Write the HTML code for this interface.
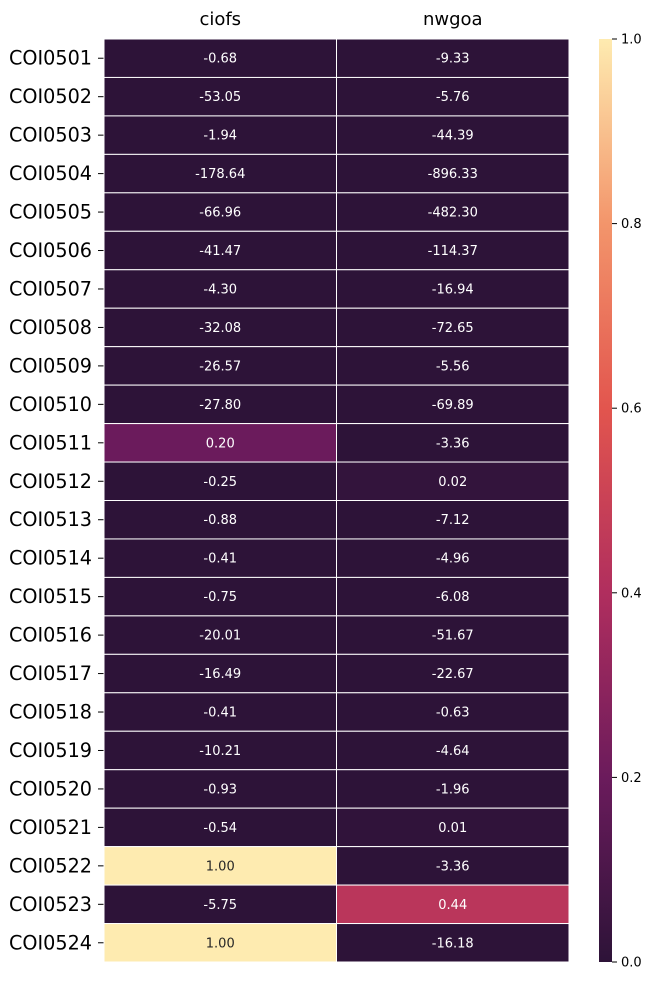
<!DOCTYPE html>
<html><head><meta charset="utf-8"><style>
body{margin:0;background:#fff;}
svg text{font-family:"DejaVu Sans","Liberation Sans",sans-serif;}
</style></head><body>
<svg id="chart" width="652" height="981" xmlns="http://www.w3.org/2000/svg">
<defs><linearGradient id="cbg" x1="0" y1="1" x2="0" y2="0">
<stop offset="0" stop-color="#2d1338"/><stop offset="0.2" stop-color="#6b1b5c"/>
<stop offset="0.4" stop-color="#b02e5e"/><stop offset="0.6" stop-color="#e2554e"/>
<stop offset="0.8" stop-color="#f3956b"/><stop offset="1" stop-color="#feebb0"/></linearGradient></defs>
<g id="cells"></g>
<rect x="599" y="39" width="13" height="923" fill="url(#cbg)"/>
<g id="cbticks"></g>
</svg>
<script>
const rows=["COI0501","COI0502","COI0503","COI0504","COI0505","COI0506","COI0507","COI0508","COI0509","COI0510","COI0511","COI0512","COI0513","COI0514","COI0515","COI0516","COI0517","COI0518","COI0519","COI0520","COI0521","COI0522","COI0523","COI0524"];
const cols=["ciofs","nwgoa"];
const ciofs=[-0.68,-53.05,-1.94,-178.64,-66.96,-41.47,-4.30,-32.08,-26.57,-27.80,0.20,-0.25,-0.88,-0.41,-0.75,-20.01,-16.49,-0.41,-10.21,-0.93,-0.54,1.00,-5.75,1.00];
const nwgoa=[-9.33,-5.76,-44.39,-896.33,-482.30,-114.37,-16.94,-72.65,-5.56,-69.89,-3.36,0.02,-7.12,-4.96,-6.08,-51.67,-22.67,-0.63,-4.64,-1.96,0.01,-3.36,0.44,-16.18];
const cbTicks=[0,0.2,0.4,0.6,0.8,1.0];
const stops=[[0,[45,19,56]],[0.2,[107,27,92]],[0.4,[176,46,94]],[0.6,[226,85,78]],[0.8,[243,149,107]],[1,[254,235,176]]];
function color(v){v=Math.max(0,Math.min(1,v));for(let i=1;i<stops.length;i++){if(v<=stops[i][0]){const a=stops[i-1],b=stops[i],t=(v-a[0])/(b[0]-a[0]);return 'rgb('+a[1].map((c,k)=>Math.round(c+(b[1][k]-c)*t)).join(',')+')';}}}
const X0=104,CW=232.5,Y0=39,RH=923/rows.length;
const x=i=>X0+i*CW, y=j=>Y0+j*RH, cy=v=>962-v*923;
const NS="http://www.w3.org/2000/svg";
const g=document.getElementById('cells');
function mk(tag,attrs,parent,txt){const e=document.createElementNS(NS,tag);for(const k in attrs)e.setAttribute(k,attrs[k]);if(txt!==undefined)e.textContent=txt;parent.appendChild(e);return e;}
const series=[ciofs,nwgoa];
cols.forEach((c,i)=>{
 const t=mk('text',{x:x(i)+CW/2,y:25,'text-anchor':'middle','font-size':18,fill:'#000'},g,c);
 
 
});
rows.forEach((r,j)=>{
 const t=mk('text',{x:92,y:y(j)+RH/2+6.5,'text-anchor':'end','font-size':19.2,fill:'#000'},g,r);
 
 
 mk('line',{x1:98,x2:104,y1:y(j)+RH/2,y2:y(j)+RH/2,stroke:'#000','stroke-width':1},g);
 series.forEach((s,i)=>{
  const v=s[j];
  const rc=mk('rect',{x:x(i),y:y(j),width:CW,height:RH,fill:color(v),stroke:'#fff','stroke-width':1},g);
  
  
  const tx=mk('text',{x:x(i)+CW/2,y:y(j)+RH/2+4.5,'text-anchor':'middle','font-size':13,fill:v>0.6?'#262626':'#fff'},g,v.toFixed(2));
  
  
 });
});
const cb=document.getElementById('cbticks');
cbTicks.forEach(v=>{
 mk('line',{x1:612,x2:617,y1:cy(v),y2:cy(v),stroke:'#000','stroke-width':1},cb);
 const t=mk('text',{x:621,y:cy(v)+4.5,'font-size':13,fill:'#000'},cb,v.toFixed(1));
 
 
});
</script>
</body></html>
